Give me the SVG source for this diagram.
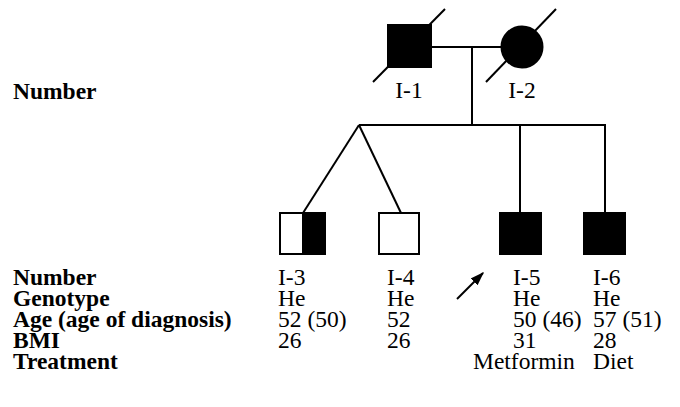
<svg xmlns="http://www.w3.org/2000/svg" width="680" height="407" viewBox="0 0 680 407">
<style>
.ln{stroke:#000;stroke-width:2;fill:none}
.lab{font-family:"Liberation Serif","Times New Roman",serif;font-size:23.5px;font-weight:bold;fill:#000}
.val{font-family:"Liberation Serif","Times New Roman",serif;font-size:23.5px;fill:#000}
.aff{fill:#000;stroke:#000;stroke-width:2}
.un{fill:#fff;stroke:#000;stroke-width:2}
</style>
<defs>
<marker id="ah" viewBox="0 0 10 10" refX="9" refY="5" markerWidth="7" markerHeight="7" orient="auto" markerUnits="strokeWidth">
<path d="M0,1.5 L10,5 L0,8.5 Z" fill="#000"/>
</marker>
</defs>
<rect width="680" height="407" fill="#fff"/>
<g id="connectors">
<line class="ln" x1="431" y1="47" x2="501" y2="47"/>
<line class="ln" x1="472" y1="47" x2="472" y2="125"/>
<line class="ln" x1="359" y1="125" x2="606" y2="125"/>
<line class="ln" x1="359" y1="125" x2="303" y2="213"/>
<line class="ln" x1="359" y1="125" x2="401" y2="213"/>
<line class="ln" x1="520" y1="125" x2="520" y2="213"/>
<line class="ln" x1="605" y1="125" x2="605" y2="213"/>
</g>
<g id="I-1">
<rect class="aff" x="388" y="25" width="43" height="42"/>
<line class="ln" x1="373" y1="82" x2="445" y2="9"/>
<text class="val" x="409" y="98" text-anchor="middle">I-1</text>
</g>
<g id="I-2">
<circle class="aff" cx="522" cy="47" r="20.5"/>
<line class="ln" x1="486" y1="82" x2="556" y2="9"/>
<text class="val" x="522" y="98" text-anchor="middle">I-2</text>
</g>
<g id="I-3">
<rect class="un" x="280" y="213" width="45" height="41"/>
<rect x="302" y="213" width="23" height="41" fill="#000"/>
<rect class="ln" x="280" y="213" width="45" height="41"/>
</g>
<g id="I-4">
<rect class="un" x="379" y="213" width="40" height="41"/>
</g>
<g id="I-5">
<rect class="aff" x="500" y="213" width="41" height="41"/>
</g>
<g id="I-6">
<rect class="aff" x="584" y="213" width="41" height="41"/>
</g>
<g id="proband-arrow">
<line class="ln" x1="457" y1="299" x2="483" y2="273" marker-end="url(#ah)"/>
</g>
<g id="labels">
<text class="lab" x="13" y="99">Number</text>
<text class="lab" x="13" y="285">Number</text>
<text class="lab" x="13" y="306">Genotype</text>
<text class="lab" x="13" y="327">Age (age of diagnosis)</text>
<text class="lab" x="13" y="348">BMI</text>
<text class="lab" x="13" y="369">Treatment</text>
</g>
<g id="values">
<text class="val" x="278" y="285">I-3</text>
<text class="val" x="278" y="306">He</text>
<text class="val" x="278" y="327">52 (50)</text>
<text class="val" x="278" y="348">26</text>
<text class="val" x="387" y="285">I-4</text>
<text class="val" x="387" y="306">He</text>
<text class="val" x="387" y="327">52</text>
<text class="val" x="387" y="348">26</text>
<text class="val" x="513" y="285">I-5</text>
<text class="val" x="513" y="306">He</text>
<text class="val" x="513" y="327">50 (46)</text>
<text class="val" x="513" y="348">31</text>
<text class="val" x="473" y="369">Metformin</text>
<text class="val" x="593" y="285">I-6</text>
<text class="val" x="593" y="306">He</text>
<text class="val" x="593" y="327">57 (51)</text>
<text class="val" x="593" y="348">28</text>
<text class="val" x="593" y="369">Diet</text>
</g>
</svg>
